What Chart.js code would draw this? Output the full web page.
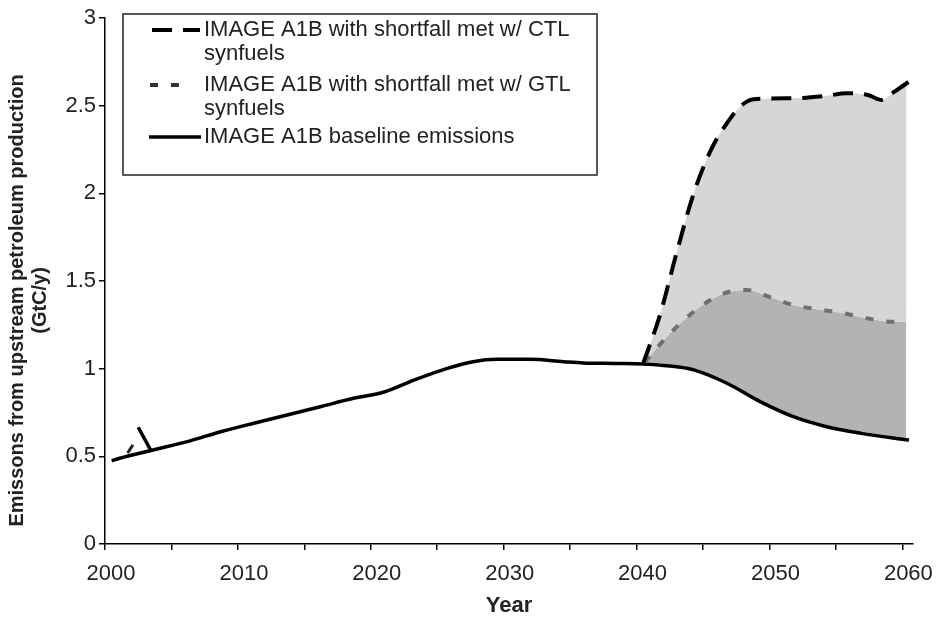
<!DOCTYPE html>
<html>
<head>
<meta charset="utf-8">
<script src="https://cdn.jsdelivr.net/npm/chart.js@4.4.1/dist/chart.umd.min.js"></script>
<style>
  body { margin: 0; background: #fff; }
  #wrap { width: 940px; height: 622px; }
</style>
</head>
<body>
<div id="wrap"><canvas id="chart" width="940" height="622"></canvas></div>
<script>
// values
var baseYears = [2000.5, 2001.1, 2003.6, 2006.2, 2008.7, 2011.2, 2013.7, 2016.2, 2018.7, 2021.0, 2023.2, 2025.7, 2027.7, 2029.5, 2032.0, 2034.5, 2036.0, 2038.3, 2040.5, 2043.3, 2044.3, 2046.8, 2049.3, 2051.8, 2054.3, 2056.9, 2060.5];
var baseValues = [0.475, 0.489, 0.536, 0.584, 0.64, 0.689, 0.736, 0.783, 0.831, 0.867, 0.933, 1.0, 1.04, 1.053, 1.053, 1.04, 1.033, 1.03, 1.027, 1.008, 0.993, 0.917, 0.812, 0.726, 0.669, 0.631, 0.593];

var ctlYears = [2040.5, 2041.8, 2043.0, 2044.3, 2045.6, 2046.8, 2047.8, 2048.8, 2051.8, 2054.3, 2055.8, 2057.4, 2058.4, 2059.4, 2060.5];
var ctlValues = [1.03, 1.316, 1.658, 2.0, 2.248, 2.40, 2.495, 2.537, 2.542, 2.556, 2.571, 2.561, 2.533, 2.58, 2.637];

var gtlYears = [2040.6, 2042.5, 2044.8, 2046.6, 2048.3, 2050.1, 2051.8, 2053.6, 2055.3, 2057.4, 2059.1, 2060.3];
var gtlValues = [1.035, 1.20, 1.354, 1.43, 1.449, 1.407, 1.363, 1.339, 1.32, 1.287, 1.268, 1.268];

// stray marks near 2002
var ctlEarlyYears = [2002.5, 2003.5];
var ctlEarlyValues = [0.666, 0.527];
var gtlEarlyYears = [2001.7, 2002.1];
var gtlEarlyValues = [0.519, 0.565];

var labels = [
  "IMAGE A1B with shortfall met w/ CTL synfuels",
  "IMAGE A1B with shortfall met w/ GTL synfuels",
  "IMAGE A1B baseline emissions"
];

function pts(xs, ys) {
  return xs.map(function (x, i) { return { x: x, y: ys[i] }; });
}

var FONT = "'Liberation Sans', Arial, sans-serif";

// legend drawn by hand so the long labels wrap like the original
var boxLegend = {
  id: "boxLegend",
  afterDraw: function (chart) {
    var c = chart.ctx;
    c.save();
    c.fillStyle = "#fff";
    c.fillRect(123, 14, 474, 161);
    c.strokeStyle = "#222";
    c.lineWidth = 1.5;
    c.strokeRect(123, 14, 474, 161);
    c.font = "22px " + FONT;
    c.fillStyle = "#222";
    c.textBaseline = "middle";
    var rows = [
      { ds: 0, y: 30, lines: ["IMAGE A1B with shortfall met w/ CTL", "synfuels"], x0: 152, x1: 200 },
      { ds: 1, y: 85, lines: ["IMAGE A1B with shortfall met w/ GTL", "synfuels"], x0: 150, x1: 192 },
      { ds: 2, y: 137, lines: ["IMAGE A1B baseline emissions"], x0: 149, x1: 201 }
    ];
    rows.forEach(function (r) {
      var d = chart.data.datasets[r.ds];
      c.beginPath();
      c.setLineDash(d.borderDash || []);
      c.strokeStyle = r.ds == 1 ? "#333" : d.borderColor;
      c.lineWidth = d.borderWidth;
      c.moveTo(r.x0, r.y);
      c.lineTo(r.x1, r.y);
      c.stroke();
      c.setLineDash([]);
      r.lines.forEach(function (t, i) {
        c.fillText(t, 204, r.y + i * 24);
      });
    });
    c.restore();
  }
};

var ctx = document.getElementById("chart");

var chart = new Chart(ctx, {
  type: "line",
  data: {
    datasets: [
      {
        label: labels[0],
        data: pts(ctlYears, ctlValues),
        borderColor: "#000",
        borderWidth: 4,
        borderDash: [20, 11],
        pointRadius: 0,
        cubicInterpolationMode: "monotone",
        fill: { target: 1, above: "#d6d6d6", below: "#d6d6d6" }
      },
      {
        label: labels[1],
        data: pts(gtlYears, gtlValues),
        borderColor: "#707070",
        borderWidth: 4,
        borderDash: [8, 13],
        pointRadius: 0,
        cubicInterpolationMode: "monotone",
        fill: { target: 2, above: "#b3b3b3", below: "#b3b3b3" }
      },
      {
        label: labels[2],
        data: pts(baseYears, baseValues),
        borderColor: "#000",
        borderWidth: 3.5,
        pointRadius: 0,
        cubicInterpolationMode: "monotone",
        fill: false
      },
      {
        label: "ctl early",
        data: pts(ctlEarlyYears, ctlEarlyValues),
        borderColor: "#000",
        borderWidth: 3.5,
        pointRadius: 0,
        fill: false
      },
      {
        label: "gtl early",
        data: pts(gtlEarlyYears, gtlEarlyValues),
        borderColor: "#222",
        borderWidth: 3,
        pointRadius: 0,
        fill: false
      }
    ]
  },
  options: {
    responsive: false,
    animation: false,
    layout: { padding: { top: 18, right: 27, left: 0, bottom: 0 } },
    plugins: {
      legend: { display: false },
      tooltip: { enabled: false },
      filler: { drawTime: "beforeDatasetsDraw" }
    },
    scales: {
      x: {
        type: "linear",
        min: 2000,
        max: 2060.8,
        afterFit: function (s) { s.height = 78; },
        grid: { drawOnChartArea: false, drawTicks: true, tickLength: 6, color: "#000", lineWidth: 1.5 },
        border: { color: "#000", width: 1.5 },
        ticks: {
          stepSize: 5,
          includeBounds: false,
          autoSkip: false,
          maxRotation: 0,
          padding: 11,
          labelOffset: 6,
          color: "#222",
          font: { family: FONT, size: 22 },
          callback: function (v) { return v % 10 === 0 ? String(v) : ""; }
        },
        title: {
          display: true,
          text: "Year",
          color: "#222",
          font: { family: FONT, size: 22, weight: "bold" },
          padding: { top: 4, bottom: 3 }
        }
      },
      y: {
        min: 0,
        max: 3,
        afterFit: function (s) { s.width = 105; },
        grid: { drawOnChartArea: false, drawTicks: true, tickLength: 6, color: "#000", lineWidth: 1.5 },
        border: { color: "#000", width: 1.5 },
        ticks: {
          stepSize: 0.5,
          padding: 3,
          color: "#222",
          font: { family: FONT, size: 22 },
          callback: function (v) { return String(v); }
        },
        title: {
          display: true,
          // trailing spaces nudge the centred title a little lower, as in the original
          text: ["Emissons from upstream petroleum production       ", "(GtC/y)       "],
          color: "#222",
          font: { family: FONT, size: 20, weight: "bold", lineHeight: 1.15 },
          padding: { top: 6, bottom: 0 }
        }
      }
    }
  },
  plugins: [boxLegend]
});
</script>
</body>
</html>
